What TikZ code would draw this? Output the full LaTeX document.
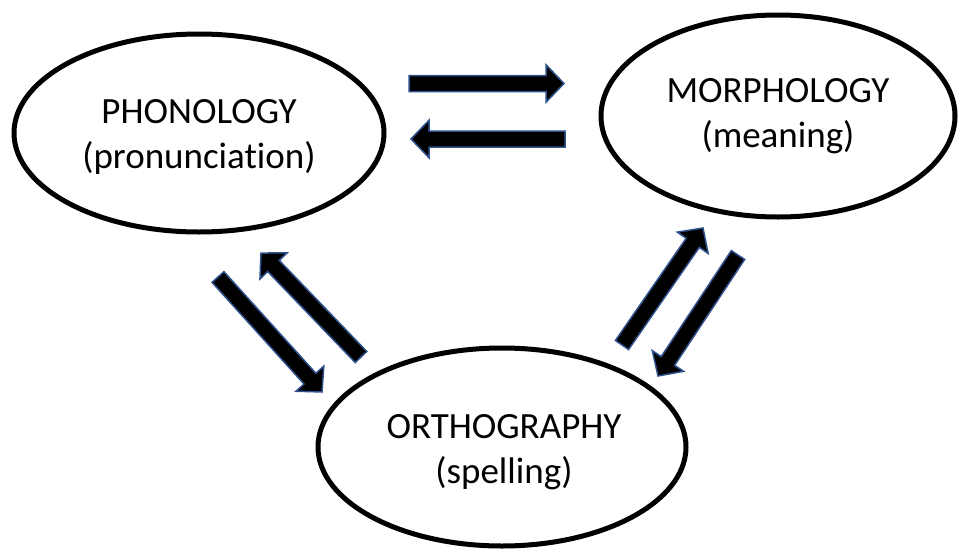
\documentclass[tikz,border=0pt]{standalone}
\usepackage{fontspec}
\setmainfont{Carlito}[Ligatures=NoCommon]
\usetikzlibrary{calc,shapes.geometric}
\definecolor{arrowblue}{HTML}{2F528F}
\newcommand\BlockArr[2]{%
  \path let \p1=($(#2)-(#1)$) in \pgfextra{%
    \pgfmathsetmacro\tmplen{veclen(\x1,\y1)}%
    \pgfmathsetmacro\tmpang{atan2(\y1,\x1)}%
    \xdef\Arrlen{\tmplen}\xdef\Arrang{\tmpang}};
  \begin{scope}[shift={(#1)},rotate=\Arrang]
    \draw[blockarr] (0pt,-8pt) -- ({\Arrlen pt-18pt},-8pt) -- ({\Arrlen pt-18pt},-18.75pt)
      -- ({\Arrlen pt},0pt) -- ({\Arrlen pt-18pt},18.75pt) -- ({\Arrlen pt-18pt},8pt)
      -- (0pt,8pt) -- cycle;
  \end{scope}}
\tikzset{
  topic/.style={ellipse, draw=black, line width=5pt, inner sep=0pt},
  topictext/.style={inner sep=0pt, align=center, font=\fontsize{37}{45}\selectfont},
  blockarr/.style={fill=black, draw=arrowblue, line width=1.5pt, line join=miter}
}
\begin{document}
\begin{tikzpicture}[x=1pt,y=-1pt]
\useasboundingbox[fill=white] (0,0) rectangle (959,552);
\node[topic, minimum width=370pt, minimum height=198pt] (phon) at (199,133) {};
\node[topic, minimum width=354pt, minimum height=202pt] (morph) at (778,116) {};
\node[topic, minimum width=368pt, minimum height=198pt] (orth) at (502,447) {};
\node[topictext] (phontext) at ($(phon.center)+(0,4)$) {PHONOLOGY\\(pronunciation)};
\node[topictext] (morphtext) at ($(morph.center)+(0,0)$) {MORPHOLOGY\\(meaning)};
\node[topictext] (orthtext) at ($(orth.center)+(2,5)$) {ORTHOGRAPHY\\(spelling)};
\coordinate (a1s) at (409,83.5); \coordinate (a1e) at (564,83.5);
\coordinate (a2s) at (565,139);  \coordinate (a2e) at (411,139);
\coordinate (a3s) at (218,277);  \coordinate (a3e) at (322,392);
\coordinate (a4s) at (361,357);  \coordinate (a4e) at (261,253);
\coordinate (a5s) at (622,345);  \coordinate (a5e) at (703,228);
\coordinate (a6s) at (738,255);  \coordinate (a6e) at (658,376);
\BlockArr{a1s}{a1e}
\BlockArr{a2s}{a2e}
\BlockArr{a3s}{a3e}
\BlockArr{a4s}{a4e}
\BlockArr{a5s}{a5e}
\BlockArr{a6s}{a6e}
\end{tikzpicture}
\end{document}
